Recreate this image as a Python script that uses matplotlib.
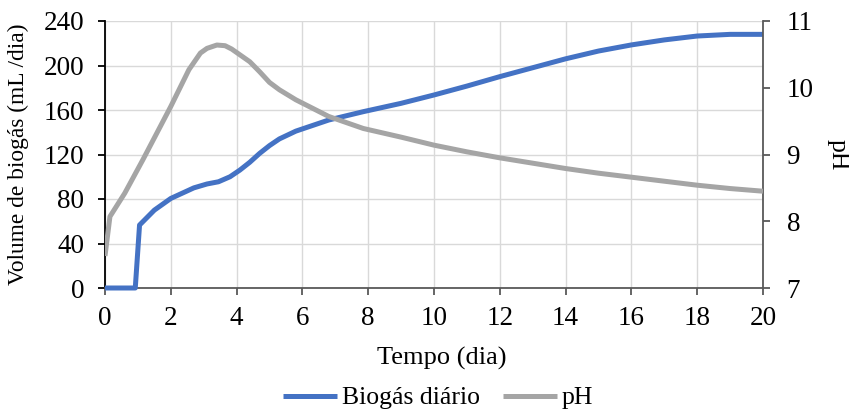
import matplotlib

matplotlib.use("Agg")

import matplotlib.pyplot as plt
from matplotlib.ticker import MultipleLocator

# Biogás diário (mL/dia) vs tempo (dia)
BIOGAS_T = [0, 0.92, 1.05, 1.5, 2.0, 2.7, 3.1, 3.45, 3.8, 4.1, 4.4, 4.7, 5.0,
            5.3, 5.8, 6.8, 7.85, 9, 10, 11, 12, 13, 14, 15, 16, 17, 18, 19, 20]
BIOGAS = [0, 0, 56.6, 70, 80.5, 90, 93.5, 95.5, 100, 106, 113, 121, 128,
          134, 141, 151, 158.5, 166, 173.5, 181.5, 190, 198, 206, 213, 218.5,
          223, 226.5, 228, 228]

# pH vs tempo (dia)
PH_T = [0, 0.15, 0.6, 1.15, 2.0, 2.55, 2.9, 3.1, 3.4, 3.65, 3.85, 4.4, 4.7,
        5.0, 5.3, 5.8, 6.8, 7.85, 9, 10, 11, 12, 13, 14, 15, 16, 17, 18, 19, 20]
PH = [7.48, 8.07, 8.42, 8.92, 9.72, 10.27, 10.52, 10.59, 10.64, 10.63, 10.58,
      10.39, 10.24, 10.08, 9.97, 9.82, 9.57, 9.39, 9.26, 9.14, 9.04, 8.95,
      8.87, 8.79, 8.72, 8.66, 8.60, 8.54, 8.49, 8.45]

plt.rcParams.update({
    "font.family": ["Liberation Serif", "DejaVu Serif"],
    "font.size": 18.5,
})

fig = plt.figure(figsize=(8.49, 4.12), dpi=100)
ax = fig.add_axes([105 / 849, 1 - 288 / 412, (763 - 105) / 849, (288 - 21) / 412])
ax2 = ax.twinx()

blue, = ax.plot(BIOGAS_T, BIOGAS, color="#4472C4", linewidth=3.6,
                solid_capstyle="butt", solid_joinstyle="round", clip_on=False,
                zorder=3, label="Biogás diário")
grey, = ax2.plot(PH_T, PH, color="#A5A5A5", linewidth=3.6,
                 solid_capstyle="butt", solid_joinstyle="round", zorder=3,
                 label="pH")

ax.set_xlim(0, 20)
ax.set_ylim(0, 240)
ax2.set_ylim(7, 11)
ax.xaxis.set_major_locator(MultipleLocator(2))
ax.yaxis.set_major_locator(MultipleLocator(40))
ax2.yaxis.set_major_locator(MultipleLocator(1))

ax.grid(True, color="#D9D9D9", linewidth=1.0, zorder=0)
ax.set_axisbelow(True)

for a in (ax, ax2):
    a.spines["top"].set_visible(False)
ax.spines["left"].set_color("black")
ax.spines["bottom"].set_color("#595959")
ax2.spines["right"].set_color("#595959")
ax2.spines["left"].set_visible(False)
ax2.spines["bottom"].set_visible(False)
ax.spines["right"].set_visible(False)
for sp in ("left", "bottom"):
    ax.spines[sp].set_linewidth(1.3)
ax2.spines["right"].set_linewidth(1.3)

ax.tick_params(axis="y", direction="out", length=5, width=1.3, pad=10,
               colors="black", labelsize=19.5)
ax.tick_params(axis="x", direction="out", length=5, width=1.3, pad=8,
               color="#595959", labelcolor="black", labelsize=19.5)
ax2.tick_params(axis="y", direction="out", length=5, width=1.3, pad=12,
                color="#595959", labelcolor="black", labelsize=19.5)

ax.set_ylabel("Volume de biogás (mL /dia)", fontsize=16.8, va="center")
ax.yaxis.set_label_coords((18 - 105) / 658, 0.5)
ax2.set_ylabel("pH", rotation=270, fontsize=18.5, va="center")
ax2.yaxis.set_label_coords((838 - 105) / 658, 0.5)
ax.set_xlabel("Tempo (dia)", fontsize=19, va="center")
ax.xaxis.set_label_coords((442 - 105) / 658, (288 - 358) / 267)

fig.legend(handles=[blue, grey], loc="center",
           bbox_to_anchor=(438 / 849, 1 - 398 / 412),
           ncol=2, frameon=False, handlelength=2.1, handletextpad=0.2,
           columnspacing=0.9, borderaxespad=0, fontsize=18.5)

fig.savefig("out.png", dpi=100)
